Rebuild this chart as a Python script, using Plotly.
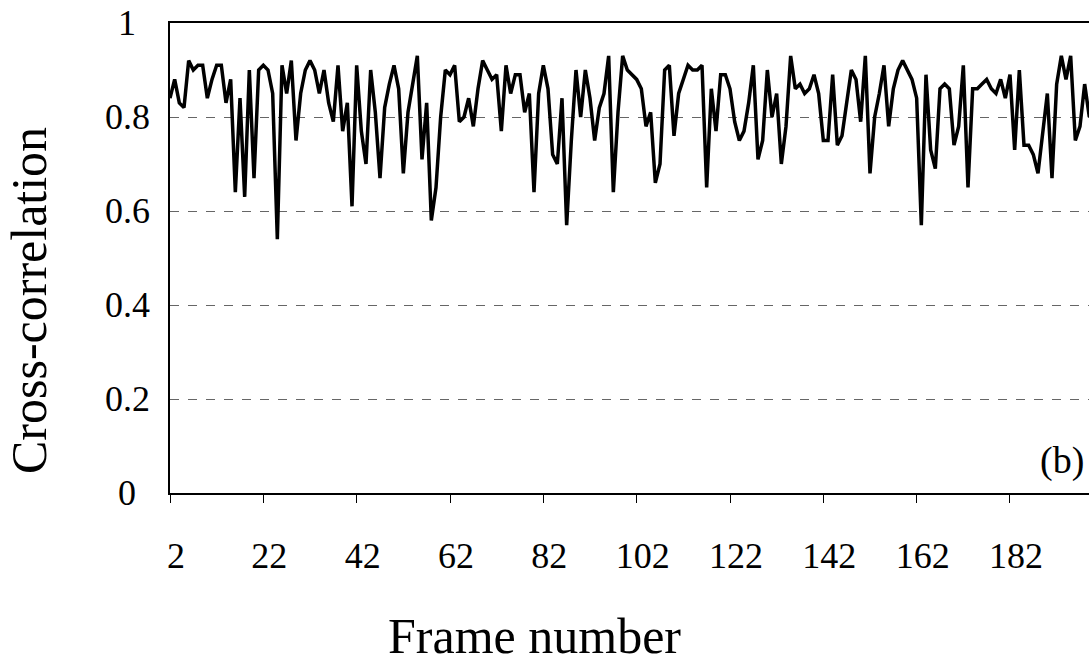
import plotly.graph_objects as go

frames = list(range(2, 201))
cross_corr = [
    0.84, 0.88, 0.83, 0.82, 0.92, 0.90, 0.91, 0.91, 0.84, 0.88,
    0.91, 0.91, 0.83, 0.88, 0.64, 0.84, 0.63, 0.90, 0.67, 0.90,
    0.91, 0.90, 0.85, 0.54, 0.91, 0.85, 0.92, 0.75, 0.85, 0.90,
    0.92, 0.90, 0.85, 0.90, 0.83, 0.79, 0.91, 0.77, 0.83, 0.61,
    0.91, 0.77, 0.70, 0.90, 0.81, 0.67, 0.82, 0.87, 0.91, 0.86,
    0.68, 0.81, 0.87, 0.93, 0.71, 0.83, 0.58, 0.65, 0.80, 0.90,
    0.89, 0.91, 0.79, 0.80, 0.84, 0.78, 0.86, 0.92, 0.90, 0.88,
    0.89, 0.77, 0.91, 0.85, 0.89, 0.89, 0.81, 0.85, 0.64, 0.85,
    0.91, 0.86, 0.72, 0.70, 0.84, 0.57, 0.75, 0.90, 0.80, 0.90,
    0.84, 0.75, 0.82, 0.85, 0.93, 0.64, 0.81, 0.93, 0.90, 0.89,
    0.88, 0.86, 0.78, 0.81, 0.66, 0.70, 0.90, 0.91, 0.76, 0.85,
    0.88, 0.91, 0.90, 0.90, 0.91, 0.65, 0.86, 0.77, 0.89, 0.89,
    0.86, 0.79, 0.75, 0.77, 0.83, 0.91, 0.71, 0.75, 0.90, 0.80,
    0.85, 0.70, 0.78, 0.93, 0.86, 0.87, 0.85, 0.86, 0.89, 0.85,
    0.75, 0.75, 0.89, 0.74, 0.76, 0.83, 0.90, 0.88, 0.79, 0.93,
    0.68, 0.80, 0.85, 0.91, 0.78, 0.86, 0.90, 0.92, 0.90, 0.88,
    0.84, 0.57, 0.89, 0.73, 0.69, 0.86, 0.87, 0.86, 0.74, 0.78,
    0.91, 0.65, 0.86, 0.86, 0.87, 0.88, 0.86, 0.85, 0.88, 0.84,
    0.89, 0.73, 0.90, 0.74, 0.74, 0.72, 0.68, 0.76, 0.85, 0.67,
    0.87, 0.93, 0.88, 0.93, 0.75, 0.78, 0.87, 0.80, 0.91,
]
x_tick_vals = [2, 22, 42, 62, 82, 102, 122, 142, 162, 182]
x_tick_text = ["2", "22", "42", "62", "82", "102", "122", "142", "162", "182"]
y_tick_vals = [0, 0.2, 0.4, 0.6, 0.8, 1]
y_tick_text = ["0", "0.2", "0.4", "0.6", "0.8", "1"]

FONT = "Liberation Serif"
TICK_SIZE = 36
TITLE_SIZE = 50

fig = go.Figure()
fig.add_trace(go.Scatter(
    x=frames, y=cross_corr, mode="lines",
    line=dict(color="black", width=3.5),
    showlegend=False, hoverinfo="skip",
))

fig.update_layout(
    width=1089, height=666,
    margin=dict(l=170, r=0, t=23, b=173),
    paper_bgcolor="white", plot_bgcolor="white",
    font=dict(family=FONT, size=TICK_SIZE, color="black"),
    xaxis=dict(
        range=[2, 198.93],
        tickmode="array", tickvals=x_tick_vals, ticktext=x_tick_text,
        ticks="outside", ticklen=8, tickwidth=1, tickcolor="black",
        ticklabelstandoff=22, ticklabelshift=6,
        showline=True, linecolor="black", linewidth=1.5, mirror=True,
        showgrid=False, zeroline=False,
        tickfont=dict(family=FONT, size=TICK_SIZE, color="black"),
    ),
    yaxis=dict(
        range=[0, 1],
        tickmode="array", tickvals=y_tick_vals, ticktext=["" for _ in y_tick_vals],
        ticks="",
        showline=True, linecolor="black", linewidth=1.5,
        showgrid=True, gridcolor="#666666", gridwidth=1, griddash="dash",
        zeroline=False,
    ),
)

for v, t in zip(y_tick_vals, y_tick_text):
    fig.add_annotation(
        x=0, xref="paper", xshift=-43, xanchor="center",
        y=v, yref="y", yanchor="middle",
        text=t, showarrow=False,
        font=dict(family=FONT, size=TICK_SIZE, color="black"),
    )

fig.add_annotation(
    x=0, xref="paper", xshift=-141, xanchor="center",
    y=0.5, yref="paper", yanchor="middle", yshift=-43,
    text="Cross-correlation", textangle=-90, showarrow=False,
    font=dict(family=FONT, size=TITLE_SIZE, color="black"),
)
fig.add_annotation(
    x=(534 - 170) / 919, xref="paper", xanchor="center",
    y=0, yref="paper", yanchor="middle", yshift=-143,
    text="Frame number", showarrow=False,
    font=dict(family=FONT, size=TITLE_SIZE, color="black"),
)

fig.add_annotation(
    x=1, xref="paper", xanchor="right", xshift=-3,
    y=0.07, yref="y", yanchor="middle",
    text="(b)", showarrow=False,
    font=dict(family=FONT, size=38, color="black"),
)

fig.write_html("out.html")
